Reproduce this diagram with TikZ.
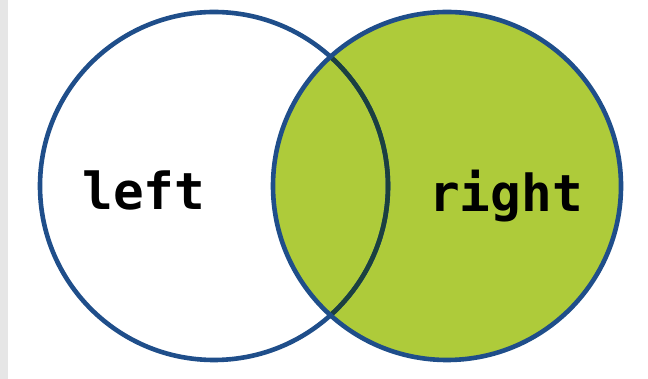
\documentclass[tikz,border=0pt]{standalone}
\usepackage{fontspec}
\newfontfamily\monofont{DejaVu Sans Mono}
\definecolor{ringblue}{HTML}{1F4E8A}
\definecolor{ringdark}{HTML}{1B4040}
\definecolor{setgreen}{HTML}{AECB3A}
\definecolor{stripgray}{HTML}{E6E6E6}
\tikzset{
  ring/.style={draw=ringblue,line width=4.6pt},
  setlabel/.style={font=\monofont\bfseries\fontsize{51}{60}\selectfont,inner sep=0pt,anchor=base}
}
\begin{document}
\begin{tikzpicture}[x=1pt, y=-1pt]
			\useasboundingbox (0, 0) rectangle (648, 379);
			\path[fill=white] (0, 0) rectangle (648, 379);
			\path[fill=stripgray] (0, 0) rectangle (8, 379);
			% right set, filled
			\path[ring,fill=setgreen] (447, 186) circle (174);
			% left set
			\path[ring] (214, 186) circle (174);
			\begin{scope}
				\clip (447, 186) circle (171.5);
				\path[draw=ringdark,line width=4.6pt] (214, 186) circle (174);
			\end{scope}
			\node[setlabel] (textleft) at (144, 210){left};
			\node[setlabel] (textright) at (506, 212){right};
		\end{tikzpicture}
\end{document}
